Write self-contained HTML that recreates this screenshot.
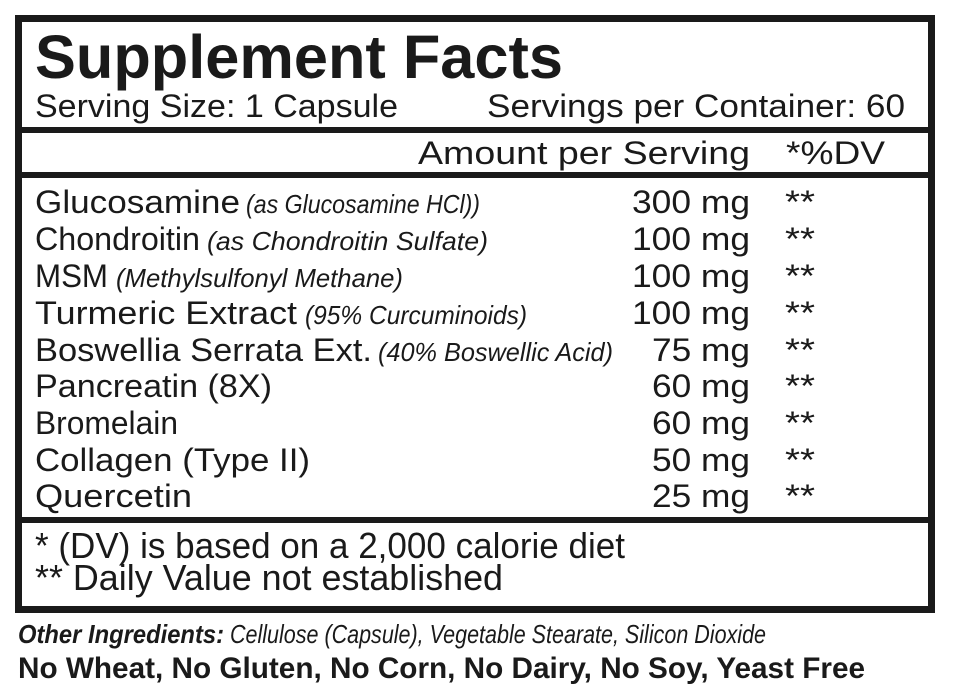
<!DOCTYPE html>
<html><head><meta charset="utf-8"><style>
html,body{margin:0;padding:0;background:#fff;}
svg{display:block}
text{font-family:"Liberation Sans",sans-serif;fill:#1a1a1a}
.r{font-size:32px}
.i{font-size:26px;font-style:italic}
.f{font-size:36px}
</style></head><body>
<svg width="954" height="696" viewBox="0 0 954 696" xmlns="http://www.w3.org/2000/svg">
<g fill="#1a1a1a">
<rect x="15" y="15" width="920" height="7"/>
<rect x="15" y="15" width="7" height="598"/>
<rect x="928" y="15" width="7" height="598"/>
<rect x="15" y="606" width="920" height="7"/>
<rect x="15" y="127" width="920" height="6"/>
<rect x="15" y="172" width="920" height="6"/>
<rect x="15" y="517" width="920" height="6"/>
</g>
<text x="35" y="78" font-size="61" font-weight="bold" textLength="528" lengthAdjust="spacingAndGlyphs">Supplement Facts</text>
<text class="r" x="35" y="117" textLength="363" lengthAdjust="spacingAndGlyphs">Serving Size: 1 Capsule</text>
<text class="r" x="487" y="117" textLength="418" lengthAdjust="spacingAndGlyphs">Servings per Container: 60</text>
<text class="r" x="418" y="164" textLength="332" lengthAdjust="spacingAndGlyphs">Amount per Serving</text>
<text class="r" x="786" y="164" textLength="99" lengthAdjust="spacingAndGlyphs">*%DV</text>

<text class="r" x="35" y="213" textLength="205" lengthAdjust="spacingAndGlyphs">Glucosamine</text>
<text class="i" x="246" y="213" textLength="234" lengthAdjust="spacingAndGlyphs">(as Glucosamine HCl))</text>
<text class="r" x="632" y="213" textLength="118" lengthAdjust="spacingAndGlyphs">300 mg</text>
<text class="r" x="785" y="213" textLength="30" lengthAdjust="spacingAndGlyphs">**</text>

<text class="r" x="35" y="250" textLength="165" lengthAdjust="spacingAndGlyphs">Chondroitin</text>
<text class="i" x="207" y="250" textLength="281" lengthAdjust="spacingAndGlyphs">(as Chondroitin Sulfate)</text>
<text class="r" x="632" y="250" textLength="118" lengthAdjust="spacingAndGlyphs">100 mg</text>
<text class="r" x="785" y="250" textLength="30" lengthAdjust="spacingAndGlyphs">**</text>

<text class="r" x="35" y="287" textLength="73" lengthAdjust="spacingAndGlyphs">MSM</text>
<text class="i" x="116" y="287" textLength="287" lengthAdjust="spacingAndGlyphs">(Methylsulfonyl Methane)</text>
<text class="r" x="632" y="287" textLength="118" lengthAdjust="spacingAndGlyphs">100 mg</text>
<text class="r" x="785" y="287" textLength="30" lengthAdjust="spacingAndGlyphs">**</text>

<text class="r" x="35" y="324" textLength="262" lengthAdjust="spacingAndGlyphs">Turmeric Extract</text>
<text class="i" x="305" y="324" textLength="222" lengthAdjust="spacingAndGlyphs">(95% Curcuminoids)</text>
<text class="r" x="632" y="324" textLength="118" lengthAdjust="spacingAndGlyphs">100 mg</text>
<text class="r" x="785" y="324" textLength="30" lengthAdjust="spacingAndGlyphs">**</text>

<text class="r" x="35" y="361" textLength="337" lengthAdjust="spacingAndGlyphs">Boswellia Serrata Ext.</text>
<text class="i" x="378" y="361" textLength="235" lengthAdjust="spacingAndGlyphs">(40% Boswellic Acid)</text>
<text class="r" x="652" y="361" textLength="98" lengthAdjust="spacingAndGlyphs">75 mg</text>
<text class="r" x="785" y="361" textLength="30" lengthAdjust="spacingAndGlyphs">**</text>

<text class="r" x="35" y="397" textLength="237" lengthAdjust="spacingAndGlyphs">Pancreatin (8X)</text>
<text class="r" x="652" y="397" textLength="98" lengthAdjust="spacingAndGlyphs">60 mg</text>
<text class="r" x="785" y="397" textLength="30" lengthAdjust="spacingAndGlyphs">**</text>

<text class="r" x="35" y="434" textLength="143" lengthAdjust="spacingAndGlyphs">Bromelain</text>
<text class="r" x="652" y="434" textLength="98" lengthAdjust="spacingAndGlyphs">60 mg</text>
<text class="r" x="785" y="434" textLength="30" lengthAdjust="spacingAndGlyphs">**</text>

<text class="r" x="35" y="471" textLength="275" lengthAdjust="spacingAndGlyphs">Collagen (Type II)</text>
<text class="r" x="652" y="471" textLength="98" lengthAdjust="spacingAndGlyphs">50 mg</text>
<text class="r" x="785" y="471" textLength="30" lengthAdjust="spacingAndGlyphs">**</text>

<text class="r" x="35" y="507" textLength="157" lengthAdjust="spacingAndGlyphs">Quercetin</text>
<text class="r" x="652" y="507" textLength="98" lengthAdjust="spacingAndGlyphs">25 mg</text>
<text class="r" x="785" y="507" textLength="30" lengthAdjust="spacingAndGlyphs">**</text>

<text class="f" x="35" y="558" textLength="590" lengthAdjust="spacingAndGlyphs">* (DV) is based on a 2,000 calorie diet</text>
<text class="f" x="35" y="590" textLength="468" lengthAdjust="spacingAndGlyphs">** Daily Value not established</text>

<text x="18" y="643" font-size="26" font-weight="bold" font-style="italic" textLength="206" lengthAdjust="spacingAndGlyphs">Other Ingredients:</text>
<text x="230" y="643" font-size="26" font-style="italic" textLength="536" lengthAdjust="spacingAndGlyphs">Cellulose (Capsule), Vegetable Stearate, Silicon Dioxide</text>
<text x="18" y="678" font-size="30" font-weight="bold" textLength="847" lengthAdjust="spacingAndGlyphs">No Wheat, No Gluten, No Corn, No Dairy, No Soy, Yeast Free</text>
</svg>
</body></html>
